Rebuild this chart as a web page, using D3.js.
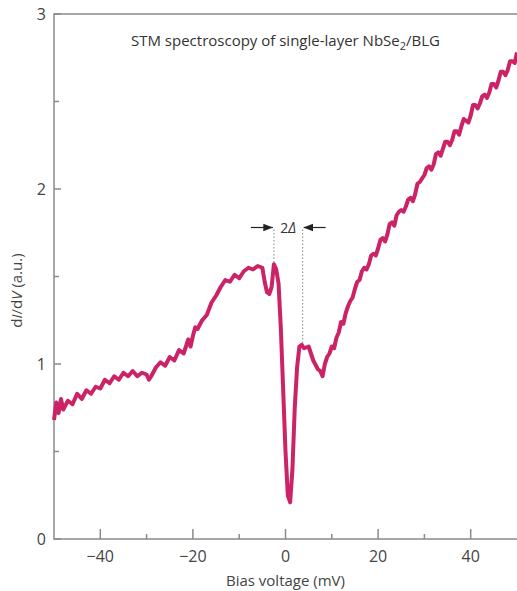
<!DOCTYPE html>
<html>
<head>
<meta charset="utf-8">
<script src="https://cdn.jsdelivr.net/npm/d3@7/dist/d3.min.js"></script>
<style>
  body { margin: 0; background: #fff; }
  svg { font-family: "Open Sans", "Noto Sans", sans-serif; }
</style>
</head>
<body>
<main></main>
<script>
// bias voltage (mV)
const bias = [-50, -49.5, -49, -48.5, -48, -47, -46, -45, -44, -43, -42, -41, -40, -39, -38, -37, -36, -35, -34, -33,
  -32, -31, -30, -29.5, -29, -28, -27, -26, -25, -24, -23, -22, -21, -20.5, -20, -19.5, -19, -18, -17, -16,
  -15, -14, -13, -12, -11, -10, -9, -8, -7, -6, -5, -4.5, -4, -3.5, -3, -2.5, -2, -1.5, -1, -0.5,
  0, 0.5, 1, 1.5, 2, 2.5, 3, 3.5, 4, 5, 6, 7, 7.5, 8, 8.5,
  9, 9.5, 10, 10.5, 11, 11.5, 12, 12.5, 13, 13.5, 14, 14.5, 15, 15.5, 16, 16.5, 17, 17.5, 18, 18.5,
  19, 19.5, 20, 20.5, 21, 21.5, 22, 22.5, 23, 23.5, 24, 24.5, 25, 25.5, 26, 26.5, 27, 27.5, 28, 28.5,
  29, 29.5, 30, 30.5, 31, 31.5, 32, 32.5, 33, 33.5, 34, 34.5, 35, 35.5, 36, 36.5, 37, 37.5, 38, 38.5,
  39, 39.5, 40, 40.5, 41, 41.5, 42, 42.5, 43, 43.5, 44, 44.5, 45, 45.5, 46, 46.5, 47, 47.5, 48, 48.5,
  49, 49.5, 50]
// dI/dV (a.u.)
const didv = [0.68, 0.78, 0.72, 0.80, 0.74, 0.79, 0.77, 0.83, 0.80, 0.85, 0.83, 0.87, 0.86, 0.91, 0.89, 0.93, 0.91, 0.95, 0.93, 0.96,
  0.93, 0.95, 0.94, 0.91, 0.93, 0.98, 1.01, 0.99, 1.04, 1.02, 1.08, 1.06, 1.14, 1.10, 1.16, 1.21, 1.20, 1.25, 1.28, 1.35,
  1.39, 1.44, 1.48, 1.47, 1.51, 1.49, 1.53, 1.55, 1.54, 1.56, 1.55, 1.47, 1.41, 1.40, 1.44, 1.57, 1.54, 1.46, 1.20, 0.85,
  0.50, 0.25, 0.21, 0.40, 0.75, 0.98, 1.10, 1.11, 1.09, 1.10, 1.02, 0.97, 0.96, 0.93, 1.00,
  1.04, 1.06, 1.10, 1.09, 1.15, 1.18, 1.24, 1.23, 1.29, 1.33, 1.36, 1.38, 1.43, 1.47, 1.48, 1.53, 1.55, 1.54, 1.57, 1.62,
  1.63, 1.62, 1.66, 1.71, 1.72, 1.70, 1.74, 1.80, 1.81, 1.79, 1.85, 1.87, 1.88, 1.87, 1.90, 1.94, 1.95, 1.93, 1.97, 2.03,
  2.04, 2.06, 2.08, 2.12, 2.13, 2.11, 2.14, 2.20, 2.21, 2.19, 2.23, 2.27, 2.27, 2.25, 2.28, 2.33, 2.33, 2.31, 2.36, 2.40,
  2.39, 2.38, 2.42, 2.48, 2.48, 2.46, 2.49, 2.53, 2.54, 2.52, 2.55, 2.60, 2.60, 2.58, 2.62, 2.67, 2.67, 2.65, 2.68, 2.73,
  2.73, 2.72, 2.78]

const xTicks = [-40, -20, 0, 20, 40]
const xMinor = [-30, -10, 10, 30]
const yTicks = [0, 1, 2, 3]
const yMinor = [0.5, 1.5, 2.5]
const gapEdges = [-2.5, 3.7]

const width = 517
const height = 591
const margin = { top: 14, right: 0, bottom: 52, left: 54 }
const axisColor = '#8a8a8a'
const textColor = '#444'
const lineColor = '#cc2266'

const svg = d3.select('main')
              .append('svg')
              .attr('width', width)
              .attr('height', height)

const xScale = d3.scaleLinear()
                 .domain([-50, 50])
                 .range([margin.left, width - margin.right])

const yScale = d3.scaleLinear()
                 .domain([0, 3])
                 .range([height - margin.bottom, margin.top])

const x0 = xScale(-50), x1 = xScale(50)
const y0 = yScale(0), y1 = yScale(3)

// frame: left, bottom and top
const frame = svg.append('g')
                 .attr('stroke', axisColor)
                 .attr('stroke-width', 1.5)
                 .attr('fill', 'none')
frame.append('path')
     .attr('d', `M${x1},${y1}H${x0}V${y0}H${x1}`)

// x ticks, pointing inward
frame.selectAll('.xmaj')
     .data(xTicks)
     .enter()
     .append('line')
     .attr('x1', d => xScale(d)).attr('x2', d => xScale(d))
     .attr('y1', y0).attr('y2', y0 - 10)
frame.selectAll('.xmin')
     .data(xMinor)
     .enter()
     .append('line')
     .attr('x1', d => xScale(d)).attr('x2', d => xScale(d))
     .attr('y1', y0).attr('y2', y0 - 5)

// y ticks
frame.selectAll('.ymaj')
     .data(yTicks)
     .enter()
     .append('line')
     .attr('x1', x0).attr('x2', x0 + 7)
     .attr('y1', d => yScale(d)).attr('y2', d => yScale(d))
frame.selectAll('.ymin')
     .data(yMinor)
     .enter()
     .append('line')
     .attr('x1', x0).attr('x2', x0 + 5)
     .attr('y1', d => yScale(d)).attr('y2', d => yScale(d))

// tick labels
svg.selectAll('.xlab')
   .data(xTicks)
   .enter()
   .append('text')
   .attr('x', d => xScale(d))
   .attr('y', y0 + 23)
   .attr('text-anchor', 'middle')
   .attr('font-size', 16)
   .attr('fill', textColor)
   .text(d => d < 0 ? '\u2212' + Math.abs(d) : d)

svg.selectAll('.ylab')
   .data(yTicks)
   .enter()
   .append('text')
   .attr('x', x0 - 8)
   .attr('y', d => yScale(d) + 6)
   .attr('text-anchor', 'end')
   .attr('font-size', 16)
   .attr('fill', textColor)
   .text(d => d)

// axis titles
svg.append('text')
   .attr('x', xScale(0))
   .attr('y', height - 5)
   .attr('text-anchor', 'middle')
   .attr('font-size', 15)
   .attr('fill', textColor)
   .text('Bias voltage (mV)')

const yTitle = svg.append('text')
   .attr('transform', `translate(22, ${yScale(1.5) + 14}) rotate(-90)`)
   .attr('text-anchor', 'middle')
   .attr('font-size', 15)
   .attr('fill', textColor)
yTitle.append('tspan').text('d')
yTitle.append('tspan').attr('font-style', 'italic').text('I')
yTitle.append('tspan').text('/d')
yTitle.append('tspan').attr('font-style', 'italic').text('V')
yTitle.append('tspan').text(' (a.u.)')

// chart title
const title = svg.append('text')
   .attr('x', xScale(0))
   .attr('y', 46)
   .attr('text-anchor', 'middle')
   .attr('font-size', 15)
   .attr('fill', '#333')
title.append('tspan').text('STM spectroscopy of single-layer NbSe')
title.append('tspan').attr('font-size', 11).attr('dy', 4).text('2')
title.append('tspan').attr('dy', -4).text('/BLG')

// gap markers
const markY = yScale(1.78)
svg.selectAll('.gapline')
   .data(gapEdges)
   .enter()
   .append('line')
   .attr('x1', d => xScale(d)).attr('x2', d => xScale(d))
   .attr('y1', markY + 2)
   .attr('y2', (d, i) => i === 0 ? yScale(1.56) : yScale(1.10))
   .attr('stroke', '#999')
   .attr('stroke-width', 1.2)
   .attr('stroke-dasharray', '1.5,2')

svg.append('defs').append('marker')
   .attr('id', 'arrow')
   .attr('viewBox', '0 0 10 10')
   .attr('refX', 10).attr('refY', 5)
   .attr('markerWidth', 8).attr('markerHeight', 8)
   .attr('orient', 'auto')
   .append('path')
   .attr('d', 'M0,1L10,5L0,9Z')
   .attr('fill', '#222')

svg.append('line')
   .attr('x1', xScale(gapEdges[0]) - 23).attr('x2', xScale(gapEdges[0]) - 1)
   .attr('y1', markY).attr('y2', markY)
   .attr('stroke', '#222').attr('stroke-width', 1.2)
   .attr('marker-end', 'url(#arrow)')
svg.append('line')
   .attr('x1', xScale(gapEdges[1]) + 23).attr('x2', xScale(gapEdges[1]) + 1)
   .attr('y1', markY).attr('y2', markY)
   .attr('stroke', '#222').attr('stroke-width', 1.2)
   .attr('marker-end', 'url(#arrow)')

const gapLabel = svg.append('text')
   .attr('x', (xScale(gapEdges[0]) + xScale(gapEdges[1])) / 2)
   .attr('y', markY + 5)
   .attr('text-anchor', 'middle')
   .attr('font-size', 14)
   .attr('fill', '#333')
gapLabel.append('tspan').text('2')
gapLabel.append('tspan').attr('font-style', 'italic').text('\u0394')

// spectrum
const line = d3.line()
               .x((d, i) => xScale(bias[i]))
               .y(d => yScale(d))

svg.append('path')
   .datum(didv)
   .attr('d', line)
   .attr('fill', 'none')
   .attr('stroke', lineColor)
   .attr('stroke-width', 4)
   .attr('stroke-linejoin', 'round')
</script>
</body>
</html>
